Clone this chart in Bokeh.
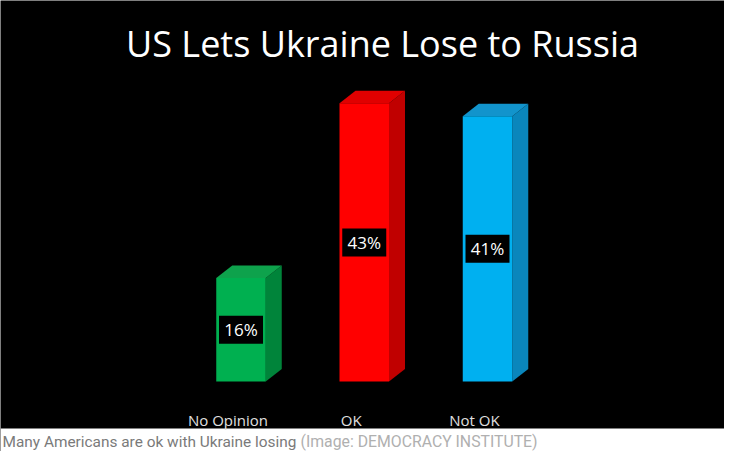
from bokeh.plotting import figure
from bokeh.models import Range1d, Label, BoxAnnotation, ColumnDataSource
from bokeh.core.properties import value
from bokeh.embed import file_html
from bokeh.resources import INLINE

# ---- data ----
categories = ["No Opinion", "OK", "Not OK"]
percents = [16, 43, 41]
pct_labels = ["16%", "43%", "41%"]
front_colors = ["#00b050", "#ff0000", "#00b0f0"]
side_colors = ["#00843a", "#c00000", "#0a86bc"]
top_colors = ["#0ea24c", "#e00000", "#1294cc"]
title_text = "US Lets Ukraine Lose to Russia"
caption_main = "Many Americans are ok with Ukraine losing"
caption_credit = "(Image: DEMOCRACY INSTITUTE)"

# ---- geometry (pixels -> data) ----
W, H = 724, 451
PX_X = 123.25          # pixels per category step
PX_Y = 6.47            # pixels per percentage point
X0 = 240.5             # pixel position of first category centre
BASE = 381             # pixel row of the 0 % baseline (from top)
BLACK_END = 428        # pixel row where the dark slide ends

xs = list(range(len(categories)))
half = 24.75 / PX_X
dx = 16 / PX_X
dy = 12.5 / PX_Y

p = figure(width=W, height=H, output_backend="svg", toolbar_location=None,
           x_range=Range1d(-X0 / PX_X, (W - X0) / PX_X),
           y_range=Range1d(-(H - BASE) / PX_Y, BASE / PX_Y),
           min_border=0, background_fill_color="black",
           border_fill_color="white", outline_line_color=None)
p.axis.visible = False
p.grid.visible = False

# white caption strip below the black slide
p.add_layout(BoxAnnotation(top=-(BLACK_END - BASE) / PX_Y, fill_color="white",
                           fill_alpha=1.0, line_color=None, level="underlay"))

# side and top faces of the 3D bars
side_xs, side_ys, top_xs, top_ys = [], [], [], []
for x, v in zip(xs, percents):
    xl, xr = x - half, x + half
    side_xs.append([xr, xr + dx, xr + dx, xr])
    side_ys.append([0, dy, v + dy, v])
    top_xs.append([xl, xl + dx, xr + dx, xr])
    top_ys.append([v, v + dy, v + dy, v])

p.patches(xs=side_xs, ys=side_ys, fill_color=side_colors, line_color=None)
p.patches(xs=top_xs, ys=top_ys, fill_color=top_colors, line_color=None)

src = ColumnDataSource(dict(x=xs, top=percents, mid=[v / 2 for v in percents],
                            color=front_colors, lab=pct_labels,
                            cat=categories,
                            cy=[-38 / PX_Y] * len(xs)))
p.vbar(x="x", top="top", bottom=0, width=2 * half, fill_color="color",
       line_color=None, source=src)

# value boxes
p.rect(x="x", y="mid", width=44, height=28, width_units="screen",
       height_units="screen", fill_color="black", line_color=None, source=src)
p.text(x="x", y="mid", text="lab", text_align="center", text_baseline="middle",
       text_color="white", text_font=value("Open Sans"), text_font_size="17px",
       source=src)

# category labels
p.text(x="x", y="cy", text="cat", x_offset=-13, text_align="center",
       text_baseline="alphabetic", text_color="#e0e0e0",
       text_font=value("Open Sans"), text_font_size="15px", source=src)

# title
p.add_layout(Label(x=382, y=H - 43, x_units="screen", y_units="screen",
                   text=title_text, text_align="center",
                   text_baseline="alphabetic", text_color="white",
                   text_font="Open Sans", text_font_size="36px"))

# caption
p.add_layout(Label(x=2, y=H - 441, x_units="screen", y_units="screen",
                   text=caption_main, text_align="left",
                   text_baseline="alphabetic", text_color="#7a7a7a",
                   text_font="Roboto", text_font_size="15.4px"))
p.add_layout(Label(x=300, y=H - 441, x_units="screen", y_units="screen",
                   text=caption_credit, text_align="left",
                   text_baseline="alphabetic", text_color="#b0b0b0",
                   text_font="Roboto", text_font_size="15.8px"))

open("out.html", "w").write(file_html(p, INLINE))
